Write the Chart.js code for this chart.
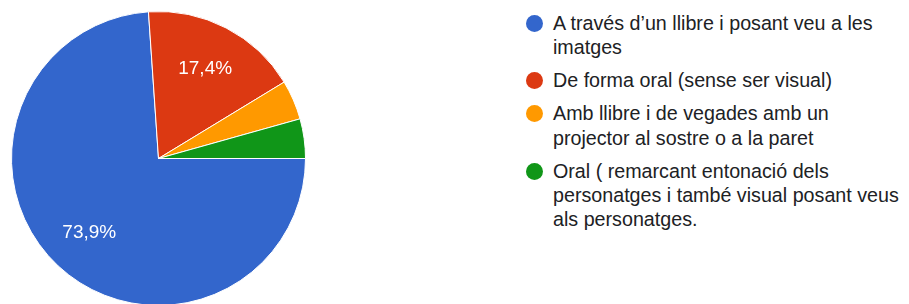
<!DOCTYPE html>
<html>
<head>
<meta charset="utf-8">
<script src="https://cdn.jsdelivr.net/npm/chart.js@4"></script>
<style>
  html, body { margin: 0; padding: 0; background: #fff; overflow: hidden; }
  body { width: 909px; height: 304px; position: relative; font-family: Arial, "Liberation Sans", sans-serif; }
  #pieBox { position: absolute; left: 0; top: 0; width: 316px; height: 316px; }
  #legend { position: absolute; left: 526px; top: 11px; color: #202124; font-size: 19.7px; }
  .item { display: flex; align-items: flex-start; margin-bottom: 8.5px; }
  .dot { width: 17px; height: 17px; border-radius: 50%; margin-top: 4px; margin-right: 10px; flex: none; }
  .txt { line-height: 24.4px; white-space: nowrap; }
</style>
</head>
<body>
<div id="pieBox"><canvas id="myChart"></canvas></div>
<div id="legend"></div>
<script>
// Respostes (23 en total)
const categories = [
  ['A través d\u2019un llibre i posant veu a les', 'imatges'],
  ['De forma oral (sense ser visual)'],
  ['Amb llibre i de vegades amb un', 'projector al sostre o a la paret'],
  ['Oral ( remarcant entonació dels', 'personatges i també visual posant veus', 'als personatges.']
];
const counts = [17, 4, 1, 1];
const colors = ['#3366cc', '#dc3912', '#ff9900', '#109618'];

// etiquetes de percentatge dins dels sectors (només les grans)
const pctLabels = {
  id: 'pctLabels',
  afterDatasetsDraw(chart) {
    const ctx = chart.ctx;
    const total = counts.reduce((a, b) => a + b, 0);
    const arcs = chart.getDatasetMeta(0).data;
    ctx.save();
    ctx.font = '19px Arial, "Liberation Sans", sans-serif';
    ctx.fillStyle = '#fff';
    ctx.textAlign = 'center';
    ctx.textBaseline = 'middle';
    arcs.forEach((arc, i) => {
      const pct = counts[i] / total * 100;
      if (pct < 10) return;
      const p = arc.getProps(['x', 'y', 'startAngle', 'endAngle', 'outerRadius'], true);
      const mid = (p.startAngle + p.endAngle) / 2;
      const r = p.outerRadius * 0.69;
      ctx.fillText(pct.toFixed(1).replace('.', ',') + '%', p.x + Math.cos(mid) * r, p.y + Math.sin(mid) * r);
    });
    ctx.restore();
  }
};

const ctx = document.getElementById('myChart').getContext('2d');
new Chart(ctx, {
  type: 'pie',
  data: {
    labels: categories,
    datasets: [{
      data: counts,
      backgroundColor: colors,
      borderColor: '#fff',
      borderWidth: 1
    }]
  },
  options: {
    responsive: true,
    maintainAspectRatio: false,
    animation: false,
    rotation: 90, // comença a les 3 en punt
    layout: { padding: { left: 11, right: 10, top: 11, bottom: 10 } },
    plugins: {
      legend: { display: false },
      tooltip: { enabled: false }
    }
  },
  plugins: [pctLabels]
});

// llegenda a la dreta
const legend = document.getElementById('legend');
categories.forEach((lines, i) => {
  const item = document.createElement('div');
  item.className = 'item';
  item.innerHTML = '<span class="dot" style="background:' + colors[i] + '"></span><span class="txt">' + lines.join('<br>') + '</span>';
  legend.appendChild(item);
});
</script>
</body>
</html>
